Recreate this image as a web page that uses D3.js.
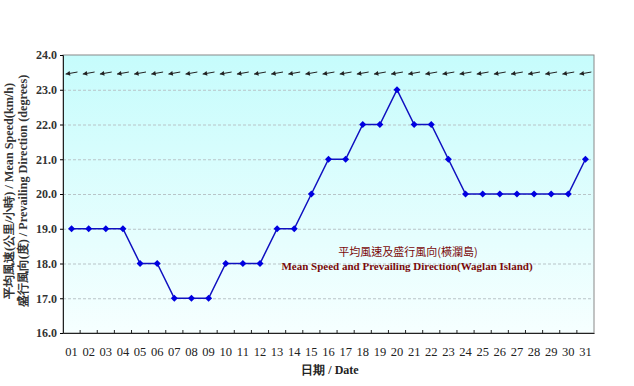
<!DOCTYPE html>
<html><head><meta charset="utf-8">
<script src="https://cdn.jsdelivr.net/npm/d3@7"></script>
<style>body{margin:0;background:#fff}svg{display:block}</style>
</head><body>
<script>
const days = ["01","02","03","04","05","06","07","08","09","10","11","12","13","14","15","16","17","18","19","20","21","22","23","24","25","26","27","28","29","30","31"];
const speed = [19,19,19,19,18,18,17,17,17,18,18,18,19,19,20,21,21,22,22,23,22,22,21,20,20,20,20,20,20,20,21];
const direction = [80,80,80,80,80,80,80,80,80,80,80,80,80,80,80,80,80,80,80,80,80,80,80,80,80,80,80,80,80,80,80];
const yTicks = [16,17,18,19,20,21,22,23,24];
const arrowLevel = 23.48;

const W=634,H=386, L=63, R=594, T=55, B=333;
const serif="Liberation Serif, Times New Roman, serif";
const svg=d3.select("body").append("svg").attr("width",W).attr("height",H);
const defs=svg.append("defs");
const g=defs.append("linearGradient").attr("id","bg").attr("x1",0).attr("y1",0).attr("x2",0).attr("y2",1);
g.append("stop").attr("offset","0%").attr("stop-color","#c6fcfc");
g.append("stop").attr("offset","100%").attr("stop-color","#f6ffff");

const x=d3.scaleBand().domain(days).range([L,R]);
const y=d3.scaleLinear().domain([16,24]).range([B,T]);

svg.append("rect").attr("x",L).attr("y",T).attr("width",R-L).attr("height",B-T).attr("fill","url(#bg)").attr("stroke","#888").attr("stroke-width",1);

// gridlines
svg.append("g").selectAll("line").data(yTicks.filter(d=>d>16&&d<24)).join("line")
 .attr("x1",L).attr("x2",R).attr("y1",d=>y(d)+0.5).attr("y2",d=>y(d)+0.5)
 .attr("stroke","#b8c4c8").attr("stroke-dasharray","3,2").attr("stroke-width",1);

// axes
const yAx=svg.append("g").attr("transform",`translate(${L},0)`)
 .call(d3.axisLeft(y).tickValues(yTicks).tickFormat(d3.format(".1f")).tickSize(3).tickPadding(3));
yAx.select(".domain").attr("stroke","#222");
yAx.selectAll("text").attr("font-family",serif).attr("font-size","12px").attr("font-weight","bold").attr("fill","#333");

const xAx=svg.append("g").attr("transform",`translate(0,${B})`)
 .call(d3.axisBottom(x).tickSize(0).tickPadding(14));
xAx.select(".domain").attr("stroke","#222");
xAx.selectAll("text").attr("font-family",serif).attr("font-size","12.5px").attr("fill","#222");
// inner ticks at band boundaries
svg.append("g").selectAll("line").data(days.slice(1)).join("line")
 .attr("x1",d=>x(d)).attr("x2",d=>x(d)).attr("y1",B).attr("y2",B-3).attr("stroke","#222");

// direction arrows
const arrowG=svg.append("g");
days.forEach((d,i)=>{
  const cx=x(d)+x.bandwidth()/2, cy=y(arrowLevel);
  const a=(direction[i]-90)*Math.PI/180;
  const len=12;
  const hx=cx-Math.cos(a)*len/2, hy=cy-Math.sin(a)*len/2;
  const tx=cx+Math.cos(a)*len/2, ty=cy+Math.sin(a)*len/2;
  arrowG.append("line").attr("x1",hx).attr("y1",hy).attr("x2",tx).attr("y2",ty).attr("stroke","#222").attr("stroke-width",1);
  const ang=Math.atan2(ty-hy,tx-hx);
  const p=[[hx,hy],[hx+5*Math.cos(ang+0.5),hy+5*Math.sin(ang+0.5)],[hx+5*Math.cos(ang-0.5),hy+5*Math.sin(ang-0.5)]];
  arrowG.append("polygon").attr("points",p.map(q=>q.join(",")).join(" ")).attr("fill","#222");
});

// speed line
const line=d3.line().x((d,i)=>x(days[i])+x.bandwidth()/2).y(d=>y(d));
svg.append("path").datum(speed).attr("d",line).attr("fill","none").attr("stroke","#1010c0").attr("stroke-width",1.5);
svg.append("g").selectAll("path").data(speed).join("path")
 .attr("transform",(d,i)=>`translate(${x(days[i])+x.bandwidth()/2},${y(d)})`)
 .attr("d","M0,-3.5L3.5,0L0,3.5L-3.5,0Z").attr("fill","#0000e0");

// legend text
const lg=svg.append("g").attr("font-family",serif).attr("fill","#7a0a0a").attr("text-anchor","middle").attr("font-size","11px").attr("font-weight","bold");
lg.append("text").attr("x",408).attr("y",256).attr("font-weight","normal").text("平均風速及盛行風向(橫瀾島)").attr("font-family","Noto Sans CJK TC, serif");
lg.append("text").attr("x",407).attr("y",270).text("Mean Speed and Prevailing Direction(Waglan Island)");

// axis titles
const yt=svg.append("g").attr("font-family",serif).attr("font-size","12.2px").attr("font-weight","bold").attr("fill","#333").attr("text-anchor","middle");
yt.append("text").attr("transform","translate(13,191) rotate(-90)").text("平均風速(公里/小時) / Mean Speed(km/h)");
yt.append("text").attr("transform","translate(27,191) rotate(-90)").text("盛行風向(度) / Prevailing Direction (degrees)");
svg.append("text").attr("x",330).attr("y",374).attr("text-anchor","middle").attr("font-family",serif).attr("font-size","12px").attr("font-weight","bold").attr("fill","#222").text("日期 / Date");
</script>
</body></html>
